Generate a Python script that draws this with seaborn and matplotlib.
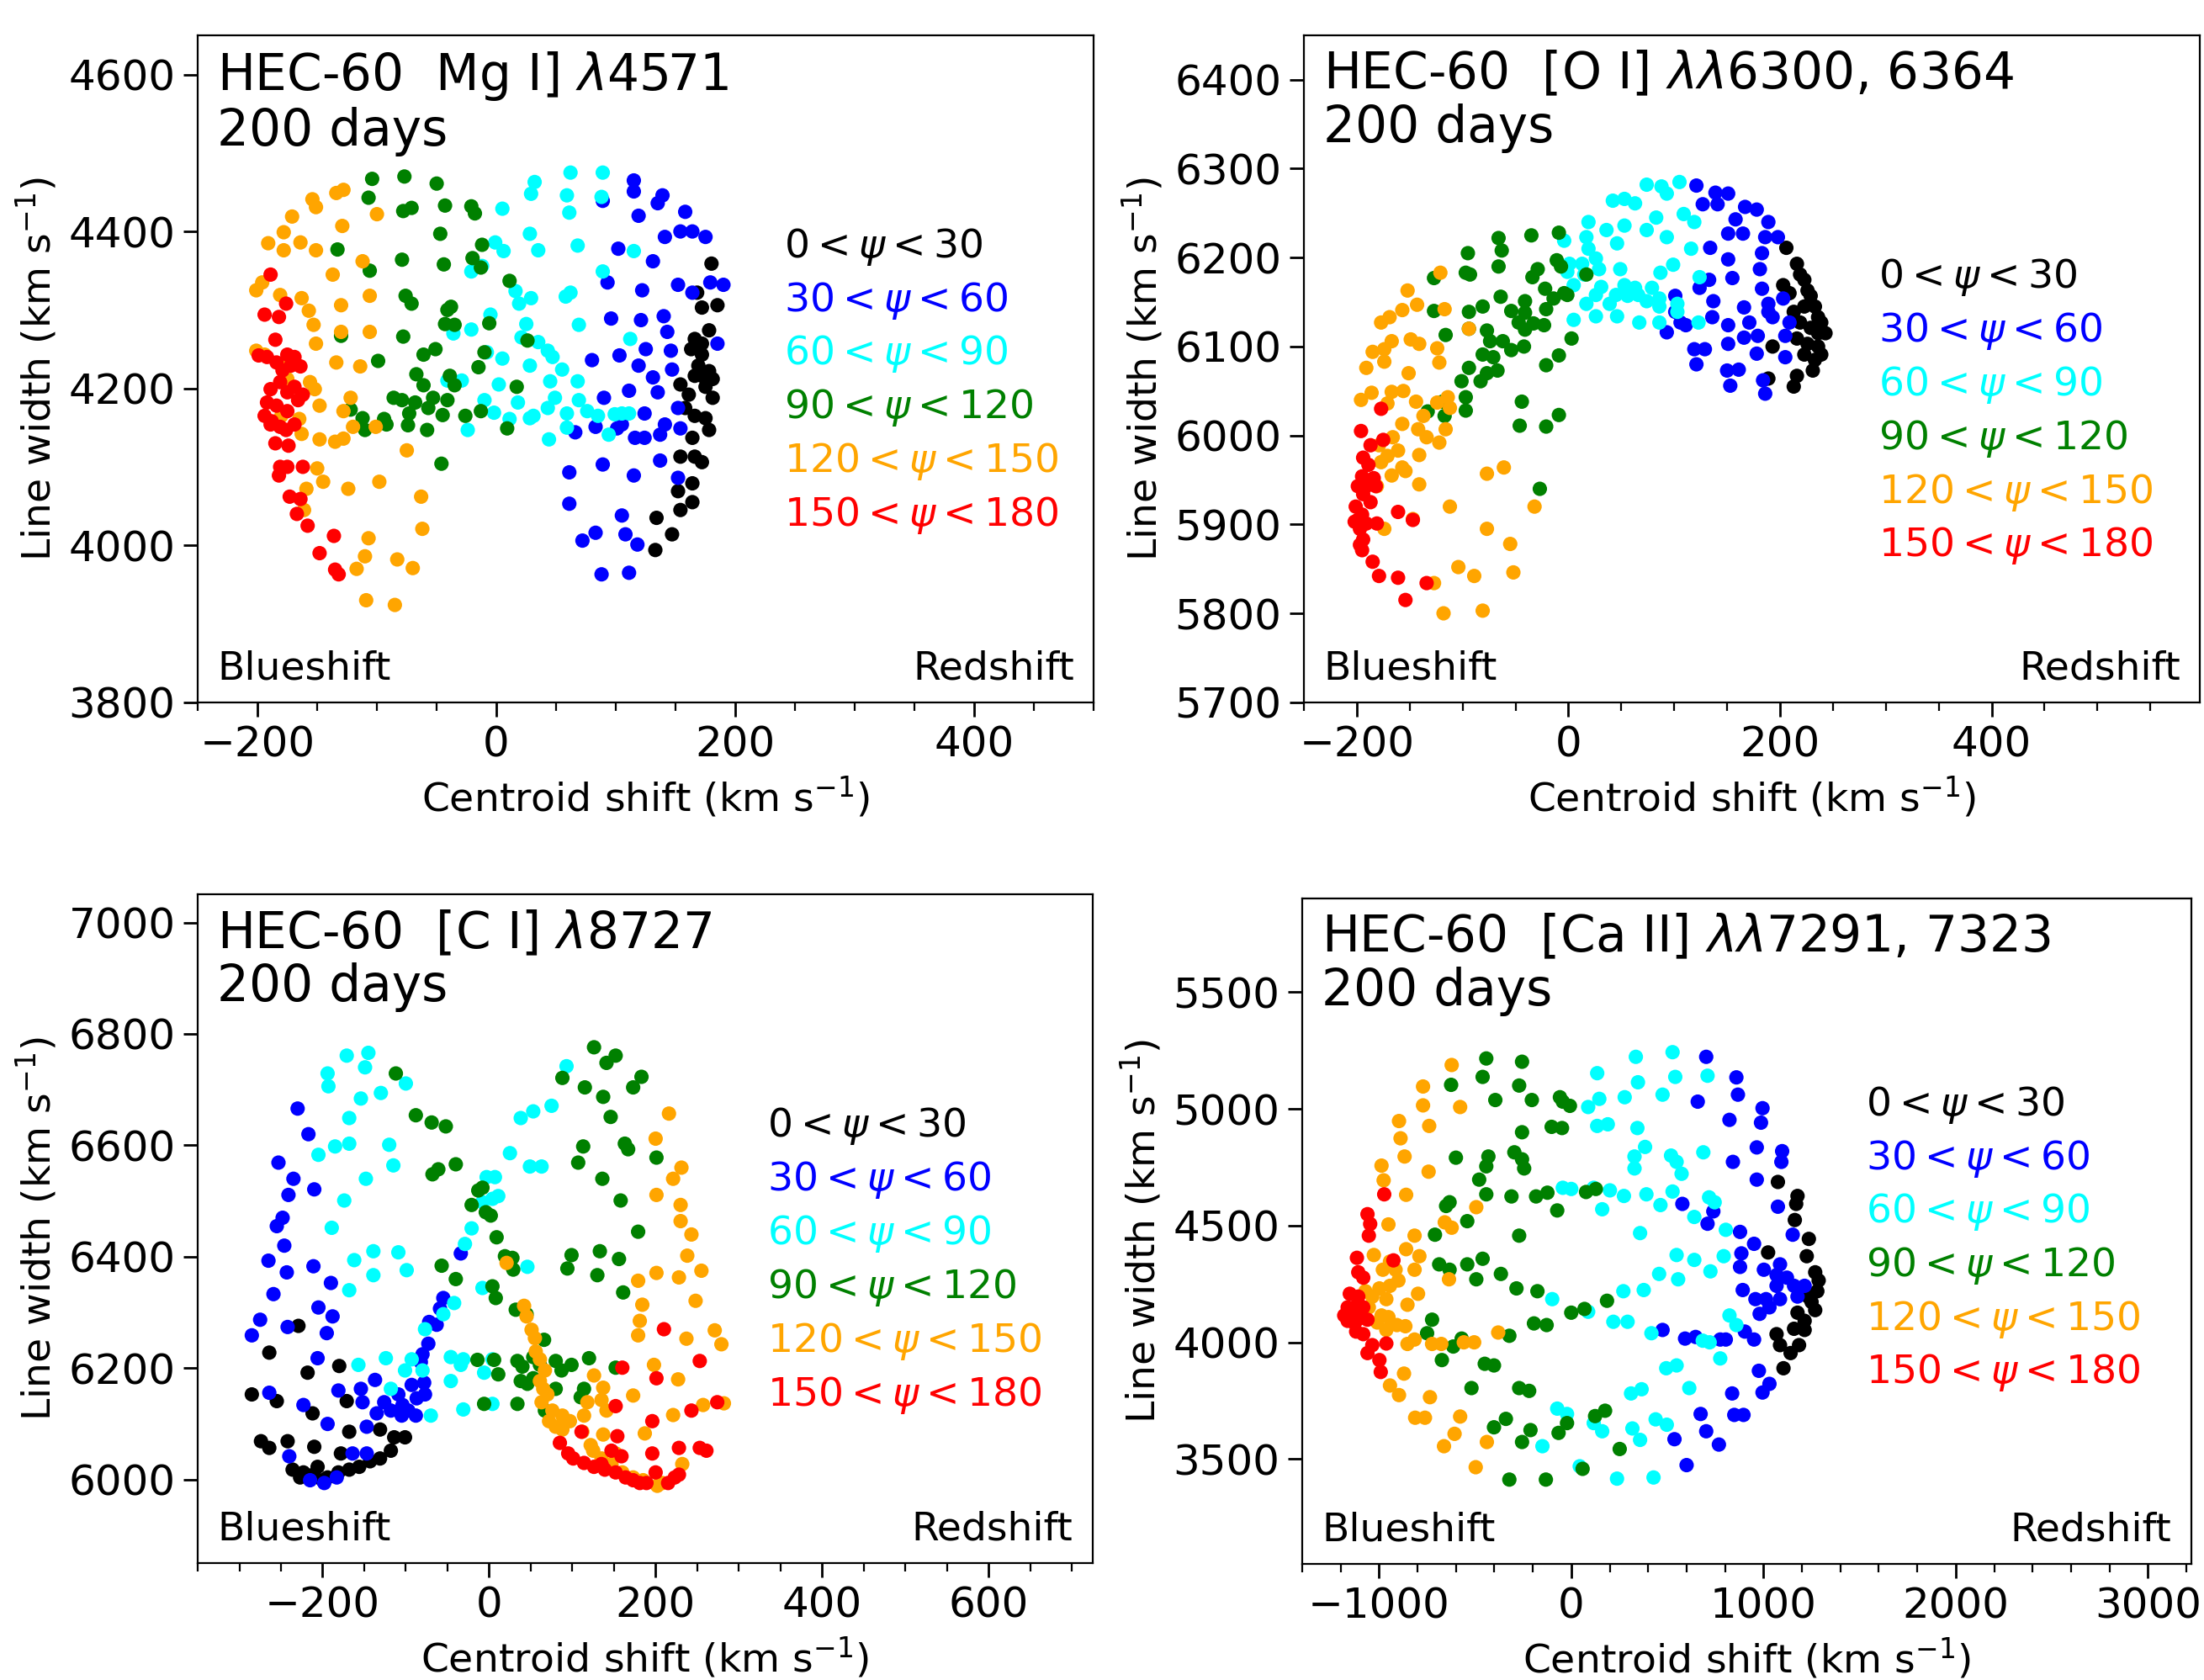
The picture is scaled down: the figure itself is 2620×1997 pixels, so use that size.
import numpy as np
import pandas as pd
import matplotlib
matplotlib.use("Agg")
import matplotlib.pyplot as plt
from matplotlib.ticker import MultipleLocator
import seaborn as sns

BINS = ["0-30", "30-60", "60-90", "90-120", "120-150", "150-180"]
BIN_LABELS = [r"$0 < \psi < 30$", r"$30 < \psi < 60$", r"$60 < \psi < 90$",
              r"$90 < \psi < 120$", r"$120 < \psi < 150$", r"$150 < \psi < 180$"]
COLORS = ["black", "blue", "cyan", "green", "orange", "red"]

# ── Mg I] 4571 ─────────────────────────────
MG_0_30 = [(180, 4359), (168, 4322), (172, 4303), (185, 4306), (178, 4274), (166, 4263), (163, 4250),
           (172, 4243), (169, 4229), (178, 4222), (154, 4205), (161, 4192), (181, 4188), (158, 4175),
           (166, 4165), (175, 4162), (178, 4147), (164, 4137), (154, 4113), (166, 4113), (172, 4106),
           (164, 4079), (152, 4069), (164, 4055), (154, 4045), (134, 4035), (147, 4014), (133, 3994),
           (172, 4216), (175, 4202), (166, 4216), (181, 4212), (172, 4257)]
MG_30_60 = [(115, 4465), (139, 4446), (135, 4436), (115, 4451), (119, 4420), (158, 4425), (154, 4400),
            (164, 4400), (175, 4393), (141, 4393), (131, 4362), (102, 4378), (89, 4439), (93, 4335),
            (122, 4325), (152, 4332), (164, 4322), (179, 4335), (190, 4332), (140, 4292), (96, 4289),
            (121, 4287), (143, 4272), (185, 4257), (146, 4248), (125, 4250), (103, 4242), (80, 4236),
            (119, 4229), (147, 4224), (131, 4214), (111, 4197), (135, 4195), (152, 4175), (124, 4168),
            (90, 4188), (141, 4154), (154, 4149), (66, 4144), (83, 4151), (101, 4149), (105, 4154),
            (116, 4137), (124, 4137), (137, 4141), (89, 4103), (137, 4108), (115, 4089), (152, 4086),
            (61, 4093), (61, 4053), (105, 4038), (108, 4014), (118, 4001), (72, 4006), (83, 4016),
            (88, 3963), (111, 3965)]
MG_60_90 = [(32, 4463), (62, 4475), (89, 4475), (59, 4446), (88, 4444), (29, 4448), (5, 4429),
            (61, 4424), (-1, 4386), (6, 4375), (28, 4397), (35, 4376), (68, 4382), (115, 4375),
            (-12, 4356), (-21, 4349), (89, 4349), (16, 4324), (29, 4315), (19, 4308), (62, 4322),
            (58, 4317), (-5, 4294), (25, 4282), (69, 4281), (-21, 4275), (-36, 4270), (21, 4265),
            (35, 4259), (43, 4248), (47, 4240), (55, 4224), (112, 4263), (5, 4238), (-8, 4246),
            (-29, 4210), (2, 4205), (45, 4209), (28, 4229), (68, 4209), (49, 4188), (69, 4185),
            (-10, 4185), (18, 4182), (31, 4165), (43, 4175), (59, 4168), (76, 4171), (85, 4165),
            (94, 4141), (99, 4167), (105, 4168), (111, 4168), (59, 4150), (11, 4161), (28, 4162),
            (44, 4135), (-2, 4169), (-24, 4147), (-41, 4210)]
MG_90_120 = [(-104, 4467), (-77, 4470), (-50, 4461), (-107, 4443), (-78, 4426), (-71, 4430), (-43, 4433),
             (-21, 4432), (-18, 4423), (-133, 4377), (-47, 4397), (-12, 4383), (-79, 4364), (-44, 4358),
             (-106, 4350), (-20, 4366), (-13, 4354), (11, 4337), (-76, 4318), (-71, 4308), (-38, 4304),
             (-41, 4300), (-35, 4281), (-43, 4282), (-6, 4283), (-130, 4267), (-78, 4266), (26, 4261),
             (-10, 4246), (-51, 4250), (-61, 4243), (-99, 4235), (-67, 4218), (-61, 4204), (-39, 4216),
             (-35, 4204), (-15, 4227), (17, 4202), (-86, 4188), (-79, 4185), (-122, 4173), (-53, 4188),
             (-68, 4182), (-57, 4175), (-41, 4185), (-26, 4165), (-13, 4171), (-45, 4166), (-112, 4162),
             (-94, 4161), (-74, 4153), (-110, 4147), (-58, 4147), (9, 4149), (-46, 4104), (-92, 4154),
             (-73, 4168)]
MG_120_150 = [(-154, 4441), (-151, 4431), (-134, 4449), (-128, 4453), (-171, 4419), (-178, 4399),
              (-191, 4385), (-178, 4376), (-164, 4386), (-151, 4376), (-129, 4407), (-100, 4422),
              (-112, 4362), (-137, 4345), (-201, 4325), (-196, 4335), (-181, 4319), (-163, 4315),
              (-157, 4299), (-153, 4281), (-130, 4306), (-106, 4318), (-130, 4272), (-201, 4248),
              (-194, 4243), (-151, 4257), (-106, 4272), (-175, 4231), (-156, 4208), (-152, 4199),
              (-134, 4233), (-114, 4228), (-175, 4212), (-122, 4188), (-148, 4178), (-128, 4171),
              (-180, 4165), (-165, 4161), (-148, 4135), (-163, 4142), (-135, 4132), (-128, 4136),
              (-120, 4151), (-101, 4151), (-75, 4121), (-150, 4098), (-145, 4081), (-159, 4072),
              (-124, 4072), (-98, 4081), (-63, 4062), (-62, 4021), (-161, 4045), (-107, 4009),
              (-83, 3982), (-70, 3971), (-110, 3986), (-117, 3970), (-109, 3930), (-85, 3924)]
MG_150_180 = [(-189, 4345), (-194, 4294), (-182, 4291), (-176, 4308), (-185, 4262), (-199, 4242),
              (-192, 4240), (-184, 4233), (-175, 4243), (-169, 4240), (-179, 4223), (-172, 4229),
              (-164, 4228), (-189, 4199), (-181, 4208), (-175, 4195), (-169, 4202), (-162, 4192),
              (-184, 4178), (-175, 4171), (-166, 4185), (-194, 4165), (-188, 4158), (-181, 4151),
              (-176, 4147), (-169, 4154), (-185, 4130), (-174, 4127), (-181, 4100), (-175, 4100),
              (-162, 4100), (-182, 4089), (-173, 4062), (-164, 4059), (-167, 4040), (-158, 4025),
              (-136, 4012), (-148, 3990), (-135, 3969), (-132, 3963), (-192, 4182), (-189, 4154)]

# ── [O I] 6300, 6364 ────────────────────────
OI_0_30 = [(206, 6211), (216, 6193), (219, 6181), (223, 6175), (226, 6163), (229, 6157), (213, 6139),
           (223, 6145), (233, 6145), (236, 6133), (239, 6127), (219, 6127), (229, 6121), (236, 6115),
           (243, 6115), (216, 6109), (226, 6103), (236, 6100), (239, 6091), (223, 6091), (233, 6085),
           (193, 6100), (189, 6064), (216, 6067), (213, 6055), (231, 6073), (209, 6160), (203, 6169)]
OI_30_60 = [(121, 6281), (139, 6273), (151, 6272), (127, 6260), (141, 6260), (167, 6257), (178, 6254),
            (158, 6243), (189, 6240), (151, 6227), (165, 6227), (186, 6223), (198, 6223), (134, 6211),
            (183, 6205), (151, 6198), (181, 6187), (155, 6177), (183, 6165), (133, 6175), (124, 6166),
            (101, 6157), (137, 6151), (166, 6144), (189, 6148), (203, 6154), (101, 6139), (136, 6133),
            (151, 6124), (171, 6127), (193, 6133), (209, 6127), (93, 6116), (111, 6124), (166, 6110),
            (179, 6112), (205, 6112), (119, 6097), (129, 6097), (151, 6103), (178, 6092), (205, 6088),
            (121, 6080), (150, 6073), (161, 6074), (153, 6056), (184, 6062), (186, 6047), (189, 6139),
            (106, 6127)]
OI_60_90 = [(105, 6285), (74, 6282), (88, 6280), (93, 6272), (42, 6264), (53, 6266), (63, 6261),
            (19, 6240), (53, 6236), (83, 6245), (109, 6249), (119, 6240), (17, 6223), (36, 6231),
            (74, 6231), (93, 6223), (-4, 6219), (19, 6210), (46, 6216), (116, 6210), (1, 6193),
            (13, 6193), (26, 6199), (29, 6187), (49, 6187), (99, 6192), (87, 6183), (-1, 6184),
            (124, 6178), (5, 6169), (15, 6181), (31, 6167), (53, 6169), (63, 6166), (79, 6166),
            (45, 6158), (56, 6157), (66, 6158), (74, 6151), (86, 6154), (26, 6158), (17, 6148),
            (39, 6148), (86, 6145), (103, 6148), (5, 6130), (26, 6134), (46, 6134), (67, 6127),
            (86, 6127), (103, 6139), (123, 6127)]
OI_90_120 = [(-66, 6222), (-35, 6225), (-9, 6228), (-95, 6205), (-63, 6208), (-127, 6177), (-97, 6183),
             (-93, 6181), (-66, 6190), (-34, 6178), (-29, 6187), (-11, 6197), (-7, 6190), (17, 6181),
             (-64, 6156), (-22, 6165), (-41, 6151), (-4, 6160), (-127, 6140), (-94, 6139), (-81, 6145),
             (-54, 6140), (-41, 6138), (-21, 6142), (-14, 6154), (-1, 6158), (-77, 6118), (-94, 6120),
             (-116, 6113), (-47, 6127), (-41, 6119), (-33, 6126), (-23, 6124), (-74, 6106), (-62, 6106),
             (-54, 6096), (-42, 6100), (-81, 6091), (-71, 6088), (3, 6109), (-94, 6076), (-67, 6073),
             (-77, 6070), (-21, 6079), (-9, 6090), (-101, 6061), (-83, 6061), (-97, 6043), (-119, 6038),
             (-133, 6027), (-117, 6022), (-97, 6028), (-44, 6038), (-9, 6023), (-46, 6011), (-21, 6010),
             (-27, 5940)]
OI_120_150 = [(-121, 6183), (-152, 6163), (-117, 6142), (-157, 6141), (-169, 6133), (-177, 6127),
              (-143, 6147), (-149, 6108), (-167, 6106), (-141, 6103), (-124, 6098), (-185, 6094),
              (-174, 6097), (-174, 6083), (-191, 6076), (-122, 6082), (-151, 6070), (-94, 6120),
              (-186, 6048), (-167, 6049), (-156, 6050), (-196, 6040), (-144, 6038), (-171, 6036),
              (-124, 6037), (-114, 6043), (-112, 6031), (-137, 6022), (-116, 6007), (-157, 6013),
              (-142, 6007), (-166, 5998), (-134, 5998), (-122, 5992), (-179, 5989), (-161, 5983),
              (-141, 5978), (-171, 5977), (-157, 5964), (-154, 5960), (-177, 5970), (-167, 5955),
              (-181, 5943), (-61, 5964), (-77, 5957), (-141, 5945), (-147, 5906), (-112, 5920),
              (-174, 5895), (-77, 5895), (-32, 5920), (-55, 5878), (-104, 5852), (-89, 5842),
              (-52, 5846), (-127, 5834), (-118, 5800), (-81, 5803)]
OI_150_180 = [(-177, 6030), (-196, 6005), (-175, 5995), (-187, 5989), (-194, 5975), (-189, 5967),
              (-195, 5954), (-184, 5952), (-199, 5943), (-191, 5943), (-182, 5943), (-194, 5934),
              (-201, 5920), (-187, 5925), (-195, 5911), (-199, 5905), (-191, 5901), (-202, 5903),
              (-181, 5901), (-197, 5895), (-194, 5883), (-195, 5871), (-185, 5858), (-161, 5914),
              (-147, 5905), (-179, 5842), (-161, 5840), (-154, 5815), (-134, 5834), (-197, 5877)]

# ── [C I] 8727 ──────────────────────────────
CI_0_30 = [(-285, 6153), (-264, 6228), (-229, 6276), (-218, 6192), (-212, 6119), (-180, 6204),
           (-171, 6141), (-255, 6141), (-274, 6069), (-264, 6057), (-242, 6069), (-210, 6059),
           (-178, 6047), (-168, 6086), (-131, 6090), (-114, 6076), (-101, 6076), (-118, 6052),
           (-131, 6038), (-143, 6033), (-156, 6023), (-168, 6018), (-181, 6013), (-194, 6004),
           (-200, 5999), (-211, 6009), (-223, 6013), (-236, 6018), (-227, 6004), (-206, 6023)]
CI_30_60 = [(-230, 6666), (-217, 6620), (-253, 6569), (-235, 6540), (-241, 6511), (-210, 6521),
            (-255, 6455), (-248, 6470), (-246, 6420), (-265, 6393), (-211, 6383), (-243, 6372),
            (-190, 6353), (-259, 6333), (-205, 6309), (-188, 6293), (-275, 6287), (-242, 6274),
            (-195, 6263), (-285, 6259), (-206, 6218), (-264, 6156), (-181, 6160), (-223, 6134),
            (-194, 6100), (-240, 6042), (-137, 6179), (-154, 6163), (-152, 6139), (-126, 6139),
            (-109, 6153), (-104, 6134), (-97, 6124), (-88, 6115), (-105, 6115), (-118, 6124),
            (-135, 6119), (-147, 6095), (-164, 6047), (-147, 6047), (-73, 6244), (-63, 6278),
            (-59, 6307), (-55, 6326), (-72, 6283), (-80, 6225), (-82, 6211), (-78, 6174),
            (-93, 6170), (-77, 6153), (-87, 6146), (-34, 6406), (-215, 5999), (-198, 5994), (-183, 6004)]
CI_60_90 = [(-171, 6761), (-145, 6766), (-149, 6740), (-194, 6729), (-193, 6706), (-130, 6694),
            (-154, 6684), (-100, 6711), (-168, 6649), (-185, 6598), (-205, 6583), (-120, 6601),
            (-115, 6564), (-168, 6603), (-148, 6540), (-174, 6501), (-189, 6452), (-162, 6394),
            (-139, 6410), (-109, 6408), (-139, 6367), (-99, 6376), (-168, 6340), (-29, 6423),
            (-21, 6451), (-8, 6498), (4, 6504), (-3, 6543), (7, 6543), (11, 6509), (25, 6586),
            (38, 6649), (53, 6661), (75, 6671), (93, 6742), (49, 6562), (63, 6562), (46, 6382),
            (-8, 6344), (-55, 6297), (-42, 6317), (-77, 6270), (-124, 6218), (-157, 6206),
            (-93, 6216), (-80, 6196), (-101, 6196), (-46, 6220), (-34, 6206), (-46, 6177),
            (-118, 6163), (-70, 6115), (-31, 6126), (4, 6136), (-6, 6192), (4, 6216), (-31, 6216)]
CI_90_120 = [(-112, 6729), (-88, 6654), (-69, 6641), (-52, 6634), (-68, 6548), (-61, 6557), (-40, 6566),
             (-8, 6524), (-13, 6519), (-21, 6493), (-4, 6480), (2, 6474), (9, 6435), (19, 6401),
             (28, 6398), (29, 6377), (-57, 6384), (-40, 6360), (4, 6347), (8, 6326), (32, 6305),
             (45, 6297), (88, 6721), (126, 6776), (141, 6748), (152, 6761), (115, 6704), (137, 6687),
             (183, 6723), (173, 6704), (146, 6651), (113, 6598), (107, 6569), (163, 6603), (167, 6593),
             (201, 6578), (136, 6540), (158, 6501), (179, 6445), (99, 6403), (94, 6379), (133, 6410),
             (130, 6367), (156, 6396), (161, 6336), (66, 6251), (-14, 6215), (6, 6215), (11, 6189),
             (34, 6213), (40, 6203), (53, 6220), (61, 6206), (80, 6213), (87, 6196), (99, 6206),
             (120, 6218), (152, 6201), (38, 6177), (46, 6172), (34, 6136), (80, 6163), (114, 6163),
             (110, 6148), (-6, 6136), (67, 6124), (53, 6182)]
CI_120_150 = [(216, 6657), (200, 6612), (231, 6560), (221, 6540), (201, 6511), (230, 6493), (230, 6464),
              (243, 6440), (238, 6402), (255, 6375), (201, 6371), (179, 6357), (228, 6363), (184, 6314),
              (248, 6321), (181, 6285), (179, 6259), (237, 6253), (271, 6268), (279, 6243), (198, 6206),
              (227, 6180), (257, 6134), (282, 6137), (221, 6116), (187, 6083), (173, 6151), (126, 6187),
              (137, 6165), (135, 6143), (141, 6124), (118, 6139), (42, 6312), (45, 6293), (51, 6269),
              (55, 6254), (56, 6230), (61, 6216), (67, 6196), (61, 6177), (65, 6163), (70, 6153),
              (63, 6139), (76, 6124), (88, 6115), (97, 6105), (72, 6105), (80, 6095), (88, 6090),
              (114, 6115), (112, 6086), (122, 6062), (125, 6052), (135, 6038), (137, 6081), (152, 6047),
              (147, 6028), (160, 6013), (173, 6004), (185, 5999), (202, 5989), (232, 6028), (208, 5994),
              (21, 6389)]
CI_150_180 = [(210, 6270), (253, 6213), (201, 6182), (160, 6201), (152, 6132), (196, 6105), (243, 6124),
              (274, 6139), (111, 6086), (154, 6078), (85, 6066), (95, 6047), (101, 6038), (114, 6030),
              (126, 6023), (139, 6018), (152, 6013), (164, 6004), (173, 5999), (181, 5994), (189, 5994),
              (200, 6013), (215, 5994), (223, 6004), (228, 6057), (228, 6009), (253, 6057), (261, 6052),
              (196, 6047), (159, 6042), (147, 6052), (135, 6028)]

# ── [Ca II] 7291, 7323 ──────────────────────
CA_0_30 = [(1075, 4687), (1177, 4627), (1170, 4593), (1163, 4524), (1236, 4443), (1225, 4369),
           (1024, 4385), (1269, 4300), (1280, 4219), (1250, 4173), (1269, 4138), (1177, 4127),
           (1214, 4092), (1159, 4058), (1214, 4053), (1068, 4035), (1086, 3988), (1141, 3954),
           (1185, 3988), (1104, 3889), (1287, 4265), (1232, 4196)]
CA_30_60 = [(702, 5223), (859, 5135), (867, 5061), (658, 5031), (995, 5003), (823, 4953), (987, 4941),
            (965, 4835), (1097, 4819), (1093, 4773), (841, 4773), (965, 4697), (1075, 4581), (578, 4593),
            (739, 4561), (709, 4508), (878, 4473), (951, 4422), (1152, 4461), (885, 4381), (878, 4323),
            (1002, 4311), (1086, 4334), (1122, 4277), (1159, 4242), (1068, 4242), (1177, 4196),
            (1013, 4185), (1086, 4185), (892, 4224), (958, 4185), (1031, 4150), (980, 4122), (903, 4046),
            (951, 4012), (775, 4012), (804, 4012), (592, 4016), (647, 4023), (475, 4053), (976, 3878),
            (1031, 3822), (995, 3785), (837, 3781), (673, 3693), (848, 3689), (896, 3689), (702, 3619),
            (768, 3562), (537, 3585), (600, 3474), (1068, 4288), (1214, 4242)]
CA_60_90 = [(336, 5223), (527, 5243), (135, 5153), (709, 5142), (541, 5137), (347, 5114), (278, 5050),
            (475, 5061), (146, 5043), (88, 5008), (135, 4927), (190, 4934), (344, 4918), (384, 4837),
            (329, 4796), (329, 4745), (519, 4800), (548, 4773), (574, 4722), (687, 4814), (-44, 4662),
            (0, 4657), (117, 4662), (201, 4651), (274, 4627), (391, 4634), (527, 4646), (464, 4588),
            (717, 4621), (746, 4600), (161, 4570), (640, 4537), (804, 4482), (358, 4468), (548, 4374),
            (640, 4353), (793, 4369), (457, 4293), (556, 4270), (724, 4304), (271, 4219), (377, 4224),
            (-99, 4185), (88, 4131), (219, 4088), (293, 4088), (823, 4115), (859, 4074), (417, 4039),
            (684, 4007), (720, 4000), (775, 3931), (494, 3889), (548, 3901), (614, 3804), (311, 3781),
            (366, 3799), (-73, 3716), (-22, 3693), (117, 3654), (161, 3619), (318, 3631), (358, 3582),
            (439, 3670), (497, 3647), (-150, 3555), (44, 3469), (238, 3416), (428, 3421)]
CA_90_120 = [(-442, 5216), (-256, 5202), (-625, 5103), (-461, 5137), (-271, 5100), (-395, 5038),
             (-205, 5038), (-59, 5050), (-44, 5031), (-7, 5013), (-256, 4900), (-102, 4923), (-48, 4918),
             (-600, 4791), (-431, 4796), (-442, 4754), (-296, 4814), (-256, 4784), (-245, 4745),
             (-479, 4697), (-442, 4634), (-311, 4625), (-183, 4625), (-124, 4641), (-73, 4565),
             (77, 4644), (128, 4657), (-651, 4584), (-633, 4600), (-541, 4519), (-709, 4461),
             (-271, 4457), (-687, 4334), (-633, 4311), (-541, 4334), (-461, 4358), (-494, 4270),
             (-366, 4293), (-285, 4231), (-176, 4219), (186, 4178), (69, 4143), (0, 4127), (-724, 4097),
             (-194, 4081), (-128, 4074), (-750, 4039), (-322, 4028), (-673, 3924), (-614, 3982),
             (-570, 4016), (-450, 3908), (-402, 3901), (-519, 3804), (-271, 3804), (-219, 3792),
             (124, 3684), (176, 3707), (-340, 3672), (-402, 3636), (-212, 3624), (-22, 3654), (-66, 3612),
             (-256, 3573), (252, 3543), (59, 3458), (-322, 3412), (-132, 3412)]
CA_120_150 = [(-622, 5188), (-771, 5096), (-771, 5015), (-578, 5008), (-896, 4948), (-888, 4874),
              (-739, 4927), (-867, 4796), (-987, 4757), (-976, 4694), (-742, 4731), (-859, 4632),
              (-494, 4579), (-658, 4514), (-622, 4491), (-951, 4505), (-815, 4457), (-859, 4399),
              (-790, 4369), (-1027, 4374), (-943, 4346), (-914, 4311), (-815, 4311), (-980, 4311),
              (-899, 4265), (-943, 4242), (-998, 4231), (-1071, 4219), (-1035, 4196), (-962, 4185),
              (-797, 4208), (-636, 4270), (-852, 4161), (-1053, 4150), (-987, 4115), (-951, 4108),
              (-907, 4074), (-863, 4069), (-962, 4053), (-1009, 4085), (-852, 3993), (-815, 4012),
              (-724, 3993), (-676, 3993), (-559, 4000), (-505, 4000), (-380, 4042), (-870, 3866),
              (-943, 3815), (-896, 3774), (-735, 3765), (-812, 3677), (-761, 3677), (-578, 3682),
              (-607, 3608), (-662, 3555), (-439, 3573), (-497, 3465)]
CA_150_180 = [(-973, 4634), (-1060, 4549), (-1046, 4507), (-1053, 4457), (-925, 4351), (-1115, 4362),
              (-1108, 4300), (-1082, 4277), (-1152, 4208), (-1108, 4196), (-1163, 4150), (-1119, 4155),
              (-1082, 4150), (-1144, 4127), (-1181, 4115), (-1163, 4092), (-1126, 4081), (-1097, 4104),
              (-1060, 4097), (-1119, 4046), (-1082, 4035), (-1035, 3988), (-962, 3995), (-1060, 3954),
              (-998, 3924), (-991, 3873)]

PANELS = [
    dict(title="HEC-60  Mg I] $\\lambda$4571",
         groups=[MG_0_30, MG_30_60, MG_60_90, MG_90_120, MG_120_150, MG_150_180],
         pos=[0.0897, 0.582, 0.4066, 0.397], xlim=(-250, 500), ylim=(3800, 4650),
         xmaj=200, xmin=50, ymaj=200, leg=(0.654, 0.683)),
    dict(title="HEC-60  [O I] $\\lambda\\lambda$6300, 6364",
         groups=[OI_0_30, OI_30_60, OI_60_90, OI_90_120, OI_120_150, OI_150_180],
         pos=[0.5916, 0.582, 0.4066, 0.397], xlim=(-250, 597), ylim=(5700, 6450),
         xmaj=200, xmin=50, ymaj=100, leg=(0.641, 0.637)),
    dict(title="HEC-60  [C I] $\\lambda$8727",
         groups=[CI_0_30, CI_30_60, CI_60_90, CI_90_120, CI_120_150, CI_150_180],
         pos=[0.0897, 0.0695, 0.4061, 0.398], xlim=(-350, 725), ylim=(5850, 7050),
         xmaj=200, xmin=50, ymaj=200, leg=(0.636, 0.654)),
    dict(title="HEC-60  [Ca II] $\\lambda\\lambda$7291, 7323",
         groups=[CA_0_30, CA_30_60, CA_60_90, CA_90_120, CA_120_150, CA_150_180],
         pos=[0.5908, 0.069, 0.4034, 0.396], xlim=(-1400, 3225), ylim=(3050, 5900),
         xmaj=1000, xmin=200, ymaj=500, leg=(0.634, 0.690)),
]

fig = plt.figure(figsize=(13.1, 9.985), dpi=200)

for p in PANELS:
    ax = fig.add_axes(p["pos"])
    rows = []
    for b, pts in zip(BINS, p["groups"]):
        for x, y in pts:
            rows.append((x, y, b))
    df = pd.DataFrame(rows, columns=["shift", "width", "psi"])
    sns.scatterplot(data=df, x="shift", y="width", hue="psi", hue_order=BINS,
                    palette=COLORS, s=38, linewidth=0, alpha=1, legend=False, ax=ax)
    ax.set_xlim(*p["xlim"])
    ax.set_ylim(*p["ylim"])
    ax.xaxis.set_major_locator(MultipleLocator(p["xmaj"]))
    ax.xaxis.set_minor_locator(MultipleLocator(p["xmin"]))
    ax.yaxis.set_major_locator(MultipleLocator(p["ymaj"]))
    ax.tick_params(axis="both", which="major", labelsize=18, length=6, width=1)
    ax.tick_params(axis="x", which="minor", length=3.5, width=0.8)
    ax.set_xlabel("Centroid shift (km s$^{-1}$)", fontsize=17)
    ax.set_ylabel("Line width (km s$^{-1}$)", fontsize=17)

    ax.text(0.022, 0.978, p["title"] + "\n200 days", transform=ax.transAxes,
            fontsize=21.5, va="top", ha="left", linespacing=1.1)
    ax.text(0.022, 0.022, "Blueshift", transform=ax.transAxes, fontsize=17,
            va="bottom", ha="left")
    ax.text(0.978, 0.022, "Redshift", transform=ax.transAxes, fontsize=17,
            va="bottom", ha="right")
    lx, ly = p["leg"]
    for k, (lab, col) in enumerate(zip(BIN_LABELS, COLORS)):
        ax.text(lx, ly - 0.0805 * k, lab, transform=ax.transAxes, fontsize=17,
                color=col, va="center", ha="left")

fig.savefig("out.png", dpi=200)
